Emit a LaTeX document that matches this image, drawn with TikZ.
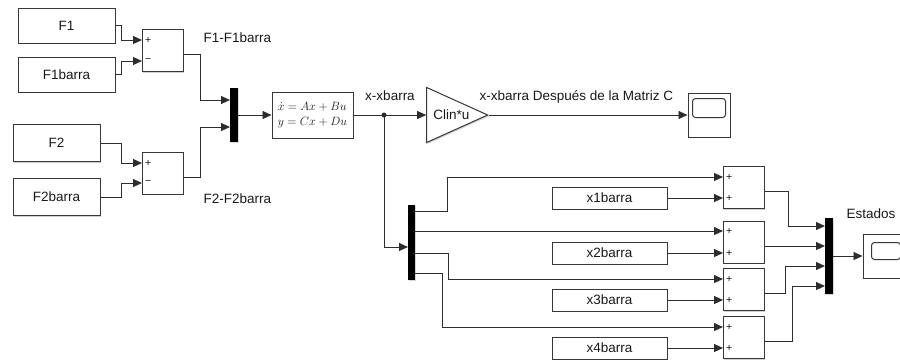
\documentclass[tikz,border=0pt]{standalone}
\usepackage{fontspec}
\setmainfont{Liberation Sans}
\usetikzlibrary{shapes.geometric, arrows.meta, positioning, calc, shadows}
\definecolor{wire}{RGB}{45, 45, 45}
\definecolor{edge}{RGB}{55, 55, 55}
\definecolor{txt}{RGB}{25, 25, 25}

\begin{document}
\begin{tikzpicture}[
  x=1pt, y=-1pt,
  every node/.style={font=\fontsize{13.5}{16}\selectfont, text=txt},
  blk/.style={rectangle, draw=edge, line width=1pt, fill=white, inner sep=0pt,
              drop shadow={shadow xshift=1.3pt, shadow yshift=-1.3pt, fill=black!35}},
  srcblk/.style={blk, minimum width=97pt, minimum height=35pt},
  xblk/.style={blk, minimum width=115pt, minimum height=22pt},
  sumblk/.style={blk, minimum width=41pt, minimum height=42pt},
  scp/.style={blk, minimum width=42pt, minimum height=44pt},
  muxbar/.style={rectangle, fill=black, draw=none, inner sep=0pt, minimum width=8pt,
              drop shadow={shadow xshift=1.3pt, shadow yshift=-1.3pt, fill=black!30}},
  gainblk/.style={isosceles triangle, isosceles triangle stretches, draw=edge, line width=1pt,
              fill=white, inner sep=0pt, minimum width=55pt, minimum height=61pt,
              drop shadow={shadow xshift=1.3pt, shadow yshift=-1.3pt, fill=black!35}},
  arr/.style={-{Triangle[length=9pt, width=8pt]}, line width=0.9pt, draw=wire},
  sgn/.style={anchor=west, xshift=3pt, inner sep=0pt, font=\fontsize{10.5}{10.5}\selectfont}
]
\useasboundingbox (0,0) rectangle (900,360);

% ports
\coordinate (s1in1) at (142,40);
\coordinate (s1in2) at (142,61);
\coordinate (s2in1) at (142,163);
\coordinate (s2in2) at (142,183);
\coordinate (m1in1) at (230,100);
\coordinate (m1in2) at (230,127);
\coordinate (jn)    at (384,115);
\coordinate (m2in)  at (408,247);
\coordinate (m2o1)  at (415,211);
\coordinate (m2o2)  at (415,231);
\coordinate (m2o3)  at (415,253);
\coordinate (m2o4)  at (415,273);
\coordinate (s3in1) at (723,177);
\coordinate (s3in2) at (723,198);
\coordinate (s4in1) at (723,231);
\coordinate (s4in2) at (723,253);
\coordinate (s5in1) at (723,279);
\coordinate (s5in2) at (723,300);
\coordinate (s6in1) at (723,327);
\coordinate (s6in2) at (723,348);
\coordinate (m3in1) at (825,226);
\coordinate (m3in2) at (825,246);
\coordinate (m3in3) at (825,266);
\coordinate (m3in4) at (825,286);

% blocks
\node[srcblk] (F1)  at (66.5,25.5) {F1};
\node[srcblk] (F1b) at (66.5,74.5) {F1barra};
\node[srcblk, minimum width=87pt, minimum height=37pt] (F2)  at (56.5,143) {F2};
\node[srcblk, minimum width=87pt, minimum height=37pt] (F2b) at (56.5,197) {F2barra};
\node[sumblk] (s1) at (162.5,50.5) {};
\node[sumblk] (s2) at (162.5,173) {};
\node[muxbar, minimum height=54pt] (m1) at (234,115) {};
\node[blk, minimum width=81pt, minimum height=46pt, align=left,
      font=\fontsize{11.5}{15}\selectfont] (ss) at (312.5,115) {$\dot{x} = Ax + Bu$\\$y = Cx + Du$};
\node[gainblk, anchor=apex] (gain) at (489,115) {};
\node (gaintxt) at (451.5,115) {Clin*u};
\node[scp] (sc1) at (709,115) {};
\draw[edge, line width=1pt, rounded corners=3pt] ($(sc1.north west)+(5,6)$) rectangle ($(sc1.north east)+(-5,25)$);

\node[muxbar, minimum width=7pt, minimum height=75pt] (m2) at (411.5,242) {};
\node[xblk] (x1b) at (609.5,198) {x1barra};
\node[xblk] (x2b) at (609.5,253) {x2barra};
\node[xblk] (x3b) at (609.5,300) {x3barra};
\node[xblk] (x4b) at (609.5,348) {x4barra};
\node[sumblk] (s3) at (743.5,187.5) {};
\node[sumblk] (s4) at (743.5,242) {};
\node[sumblk] (s5) at (743.5,289.5) {};
\node[sumblk] (s6) at (743.5,337.5) {};
\node[muxbar, minimum height=76pt] (m3) at (829,256) {};
\node[scp] (sc2) at (884,256) {};
\draw[edge, line width=1pt, rounded corners=3pt] ($(sc2.north west)+(9,9)$) rectangle ($(sc2.north east)+(-5,26)$);

% signs
\node[sgn] (p1) at (s1in1) {+};
\node[sgn] (n1) at (s1in2) {−};
\node[sgn] (p2) at (s2in1) {+};
\node[sgn] (n2) at (s2in2) {−};
\foreach \s in {s3in1,s3in2,s4in1,s4in2,s5in1,s5in2,s6in1,s6in2}
  \node[sgn] (p-\s) at (\s) {+};

% labels
\node[anchor=west] (lF1) at (200,38) {F1-F1barra};
\node[anchor=west] (lF2) at (200,199) {F2-F2barra};
\node (lxx) at (390,96) {x-xbarra};
\node[anchor=west] (lxc) at (476,97) {x-xbarra Después de la Matriz C};
\node[anchor=west] (lest) at (843,214) {Estados :};

% wires
\draw[arr] (F1.east)  -- ++(6,0)  |- (s1in1);
\draw[arr] (F1b.east) -- ++(6,0)  |- (s1in2);
\draw[arr] (F2.east)  -- ++(21,0) |- (s2in1);
\draw[arr] (F2b.east) -- ++(21,0) |- (s2in2);
\draw[arr] ([yshift=-4pt]s1.east) -- ++(17,0) |- (m1in1);
\draw[arr] ([yshift=-4pt]s2.east) -- ++(17,0) |- (m1in2);
\draw[arr] (m1.east) -- (ss.west);
\draw[arr] (ss.east) -- (gain.west);
\fill[wire] (jn) circle (2.5pt);
\draw[arr] (gain.apex) -- (sc1.west);
\draw[arr] (jn) |- (m2in);

\draw[arr] (m2o1) -- ++(32,0) |- (s3in1);
\draw[arr] (m2o2) -- (s4in1);
\draw[arr] (m2o3) -- ++(33,0) |- (s5in1);
\draw[arr] (m2o4) -- ++(27,0) |- (s6in1);
\draw[arr] (x1b.east) -- (s3in2);
\draw[arr] (x2b.east) -- (s4in2);
\draw[arr] (x3b.east) -- (s5in2);
\draw[arr] (x4b.east) -- (s6in2);

\draw[arr] ([yshift=-4pt]s3.east) -- ++(24,0) |- (m3in1);
\draw[arr] ([yshift=-4pt]s4.east) -- (m3in2);
\draw[arr] ([yshift=-4pt]s5.east) -- ++(21,0) |- (m3in3);
\draw[arr] ([yshift=-4pt]s6.east) -- ++(28,0) |- (m3in4);
\draw[arr] (m3.east) -- (sc2.west);

\end{tikzpicture}
\end{document}
